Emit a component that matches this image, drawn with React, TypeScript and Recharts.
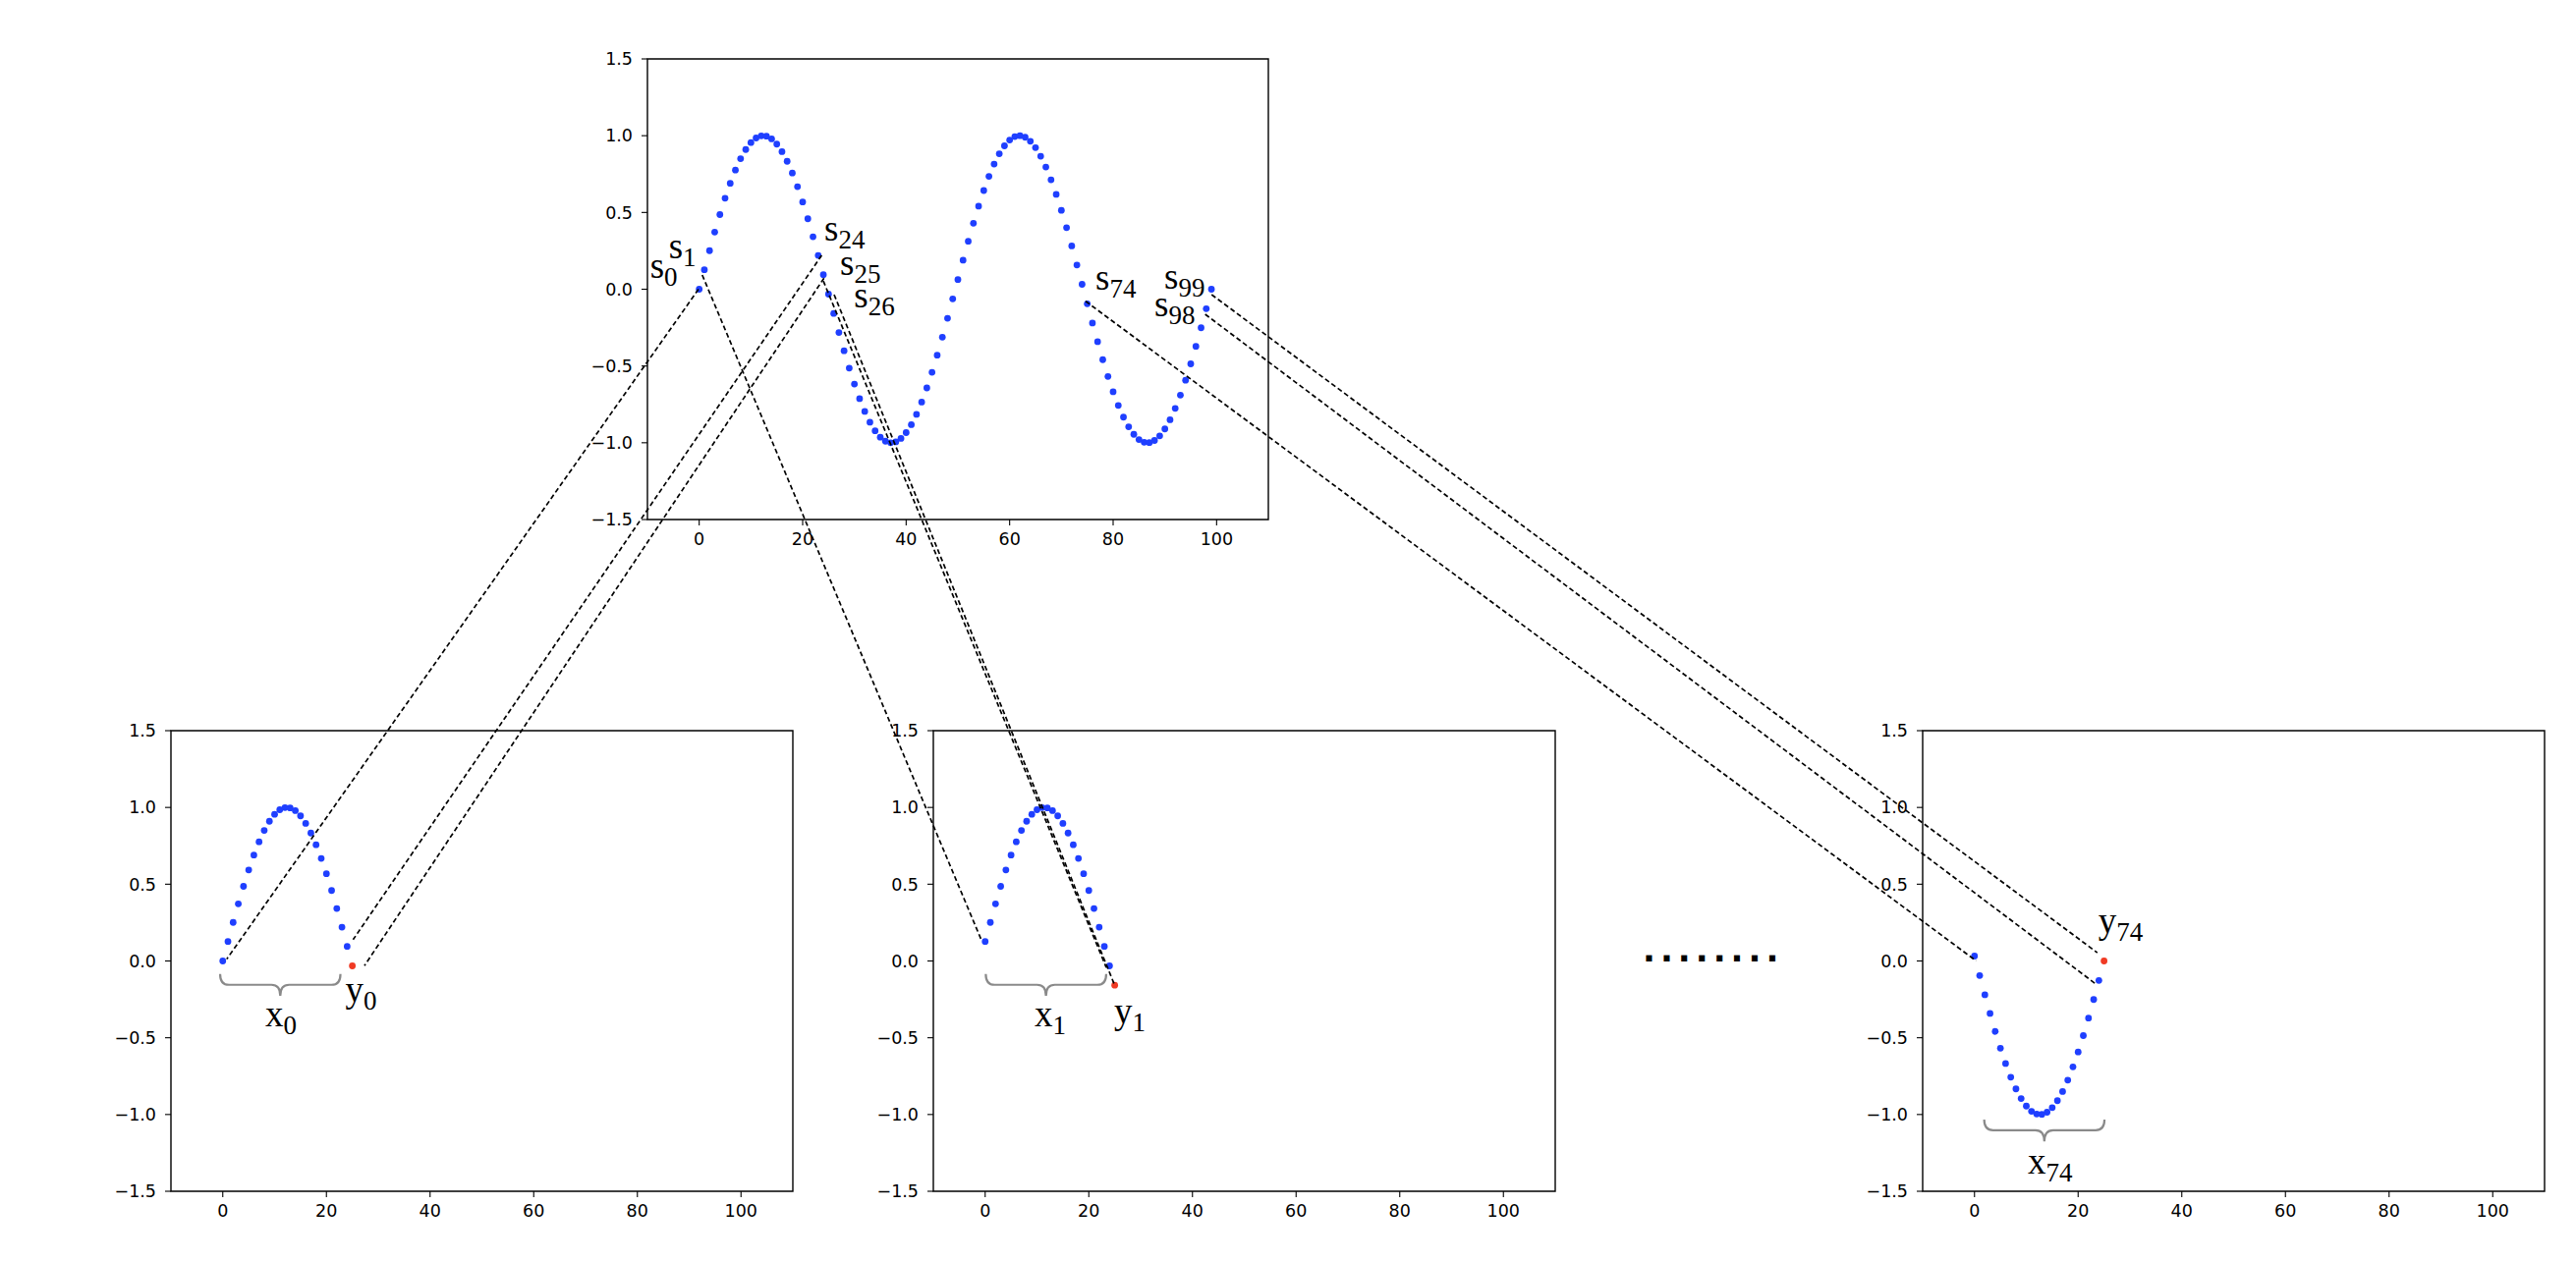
import { ScatterChart, Scatter, XAxis, YAxis, ReferenceArea } from "recharts";

// signal (100 samples, two periods)
const signal = [
  0, 0.127, 0.251, 0.372, 0.486, 0.593, 0.69, 0.776, 0.85, 0.91,
  0.955, 0.985, 0.999, 0.997, 0.979, 0.945, 0.896, 0.833, 0.757, 0.668,
  0.568, 0.459, 0.342, 0.22, 0.095, -0.032, -0.158, -0.282, -0.401, -0.514,
  -0.618, -0.713, -0.796, -0.866, -0.922, -0.964, -0.99, -1.0, -0.994, -0.972,
  -0.934, -0.882, -0.815, -0.735, -0.643, -0.541, -0.43, -0.312, -0.189, -0.063,
  0.063, 0.189, 0.312, 0.43, 0.541, 0.643, 0.735, 0.815, 0.882, 0.934,
  0.972, 0.994, 1.0, 0.99, 0.964, 0.922, 0.866, 0.796, 0.713, 0.618,
  0.514, 0.401, 0.282, 0.158, 0.032, -0.095, -0.22, -0.342, -0.459, -0.568,
  -0.668, -0.757, -0.833, -0.896, -0.945, -0.979, -0.997, -0.999, -0.985, -0.955,
  -0.91, -0.85, -0.776, -0.69, -0.593, -0.486, -0.372, -0.251, -0.127, 0,
];
const xTicks = [0, 20, 40, 60, 80, 100];
const yTicks = [-1.5, -1, -0.5, 0, 0.5, 1, 1.5];
const windowStarts = [0, 1, 74];
const windowLength = 25;

const BLUE = "#1f3fff";
const RED = "#f03a24";
const X_DOMAIN: [number, number] = [-10, 110];
const Y_DOMAIN: [number, number] = [-1.5, 1.5];

// plot areas on the page
const frames: Record<string, { x: number; y: number; w: number; h: number }> = {
  top: { x: 659, y: 60, w: 632, h: 469 },
  w0: { x: 174.3, y: 744, w: 633, h: 469 },
  w1: { x: 950.3, y: 744, w: 633, h: 469 },
  w74: { x: 1956.7, y: 744, w: 633, h: 469 },
};

// dashed connectors, each end in the data units of its panel
const connectors = [
  { a: ["top", -0.13, 0.0], b: ["w0", 0.71, 0.012] },
  { a: ["top", 0.59, 0.093], b: ["w1", -0.82, 0.139] },
  { a: ["top", 23.68, 0.221], b: ["w0", 25.09, 0.139] },
  { a: ["top", 24.12, 0.072], b: ["w0", 27.28, -0.031] },
  { a: ["top", 23.99, 0.054], b: ["w1", 23.31, -0.042] },
  { a: ["top", 26.08, -0.035], b: ["w1", 24.82, -0.148] },
  { a: ["top", 74.68, -0.078], b: ["w74", 0.37, 0.001] },
  { a: ["top", 99.04, -0.035], b: ["w74", 23.76, 0.054] },
  { a: ["top", 97.79, -0.163], b: ["w74", 23.4, -0.148] },
] as { a: [string, number, number]; b: [string, number, number] }[];

const labels = [
  { f: "top", x: -9.49, y: 0.074, t: "s", s: "0" },
  { f: "top", x: -5.88, y: 0.2, t: "s", s: "1" },
  { f: "top", x: 24.18, y: 0.317, t: "s", s: "24" },
  { f: "top", x: 27.21, y: 0.093, t: "s", s: "25" },
  { f: "top", x: 29.93, y: -0.118, t: "s", s: "26" },
  { f: "top", x: 76.58, y: -0.003, t: "s", s: "74" },
  { f: "top", x: 89.87, y: 0.003, t: "s", s: "99" },
  { f: "top", x: 87.97, y: -0.174, t: "s", s: "98" },
  { f: "w0", x: 8.14, y: -0.425, t: "x", s: "0" },
  { f: "w0", x: 23.61, y: -0.265, t: "y", s: "0" },
  { f: "w1", x: 9.45, y: -0.425, t: "x", s: "1" },
  { f: "w1", x: 24.82, y: -0.404, t: "y", s: "1" },
  { f: "w74", x: 10.34, y: -1.388, t: "x", s: "74" },
  { f: "w74", x: 23.93, y: 0.182, t: "y", s: "74" },
];

const braces = [
  { f: "w0", x1: -0.57, x2: 22.65, top: -0.084, mid: -0.155, tip: -0.227 },
  { f: "w1", x1: 0.06, x2: 23.3, top: -0.084, mid: -0.155, tip: -0.227 },
  { f: "w74", x1: 1.93, x2: 25.14, top: -1.033, mid: -1.102, tip: -1.176 },
];

function px(f: string, x: number, y: number) {
  const fr = frames[f];
  return {
    x: fr.x + ((x - X_DOMAIN[0]) / (X_DOMAIN[1] - X_DOMAIN[0])) * fr.w,
    y: fr.y + ((Y_DOMAIN[1] - y) / (Y_DOMAIN[1] - Y_DOMAIN[0])) * fr.h,
  };
}

const fmtY = (v: number) => (v < 0 ? "\u2212" : "") + Math.abs(v).toFixed(1);

const dot = (props: any) => {
  const cx = props.cx ?? props.x + props.width / 2;
  const cy = props.cy ?? props.y + props.height / 2;
  return <circle cx={cx} cy={cy} r={3.4} fill={props.fill} />;
};

const tickStyle = { fill: "#000", fontSize: 17.5, fontFamily: "DejaVu Sans" };
const tickLine = { stroke: "#000", strokeWidth: 1.1 };

function Panel({ id, points, target }: { id: string; points: { x: number; y: number }[]; target?: { x: number; y: number } }) {
  const fr = frames[id];
  const YW = 80;
  const XH = 40;
  const pad = 10;
  return (
    <div style={{ position: "absolute", left: fr.x - YW, top: fr.y - pad }}>
      <ScatterChart width={fr.w + YW + pad} height={fr.h + XH + 2 * pad} margin={{ top: pad, right: pad, bottom: pad, left: 0 }}>
        <XAxis type="number" dataKey="x" domain={X_DOMAIN} ticks={xTicks} interval={0} height={XH} tickSize={6} tickMargin={8}
          axisLine={false} tickLine={tickLine} tick={tickStyle} allowDataOverflow />
        <YAxis type="number" dataKey="y" domain={Y_DOMAIN} ticks={yTicks} interval={0} width={YW} tickSize={6} tickMargin={9}
          axisLine={false} tickLine={tickLine} tick={tickStyle} tickFormatter={fmtY} allowDataOverflow />
        <ReferenceArea x1={X_DOMAIN[0]} x2={X_DOMAIN[1]} y1={Y_DOMAIN[0]} y2={Y_DOMAIN[1]} fill="none" fillOpacity={0}
          stroke="#000" strokeWidth={1.4} ifOverflow="visible" />
        <Scatter data={points} fill={BLUE} shape={dot} isAnimationActive={false} />
        {target && <Scatter data={[target]} fill={RED} shape={dot} isAnimationActive={false} />}
      </ScatterChart>
    </div>
  );
}

function bracePath(b: (typeof braces)[number]) {
  const l = px(b.f, b.x1, b.top);
  const r = px(b.f, b.x2, b.top);
  const ym = px(b.f, 0, b.mid).y;
  const yt = px(b.f, 0, b.tip).y;
  const xc = (l.x + r.x) / 2;
  const k = 9;
  return `M${l.x},${l.y} Q${l.x},${ym} ${l.x + k},${ym} L${xc - k},${ym} Q${xc},${ym} ${xc},${yt} Q${xc},${ym} ${xc + k},${ym} L${r.x - k},${ym} Q${r.x},${ym} ${r.x},${r.y}`;
}

export default function App() {
  const topPoints = signal.map((y, i) => ({ x: i, y }));
  return (
    <div style={{ position: "relative", width: 2622, height: 1284, background: "#fff", overflow: "hidden" }}>
      <style>{"body{margin:0}"}</style>
      <Panel id="top" points={topPoints} />
      {windowStarts.map((s) => (
        <Panel key={s} id={"w" + s}
          points={signal.slice(s, s + windowLength).map((y, i) => ({ x: i, y }))}
          target={{ x: windowLength, y: signal[s + windowLength] }} />
      ))}
      <svg width={2622} height={1284} style={{ position: "absolute", left: 0, top: 0, pointerEvents: "none" }}>
        {connectors.map((c, i) => {
          const p = px(...c.a);
          const q = px(...c.b);
          return <line key={i} x1={p.x} y1={p.y} x2={q.x} y2={q.y} stroke="#000" strokeWidth={1.7} strokeDasharray="5 3" />;
        })}
        {braces.map((b, i) => (
          <path key={i} d={bracePath(b)} fill="none" stroke="#8a8a8a" strokeWidth={2.2} />
        ))}
        {labels.map((l, i) => {
          const p = px(l.f, l.x, l.y);
          return (
            <text key={i} x={p.x} y={p.y} fontFamily="'Liberation Serif', 'DejaVu Serif', serif" fontSize={37} fill="#000">
              {l.t}
              <tspan dy={8} fontSize={27}>{l.s}</tspan>
            </text>
          );
        })}
        <text x={1672} y={978.5} fontFamily="DejaVu Sans" fontWeight="bold" fontSize={34} letterSpacing={5} fill="#000">
          ........
        </text>
      </svg>
    </div>
  );
}
